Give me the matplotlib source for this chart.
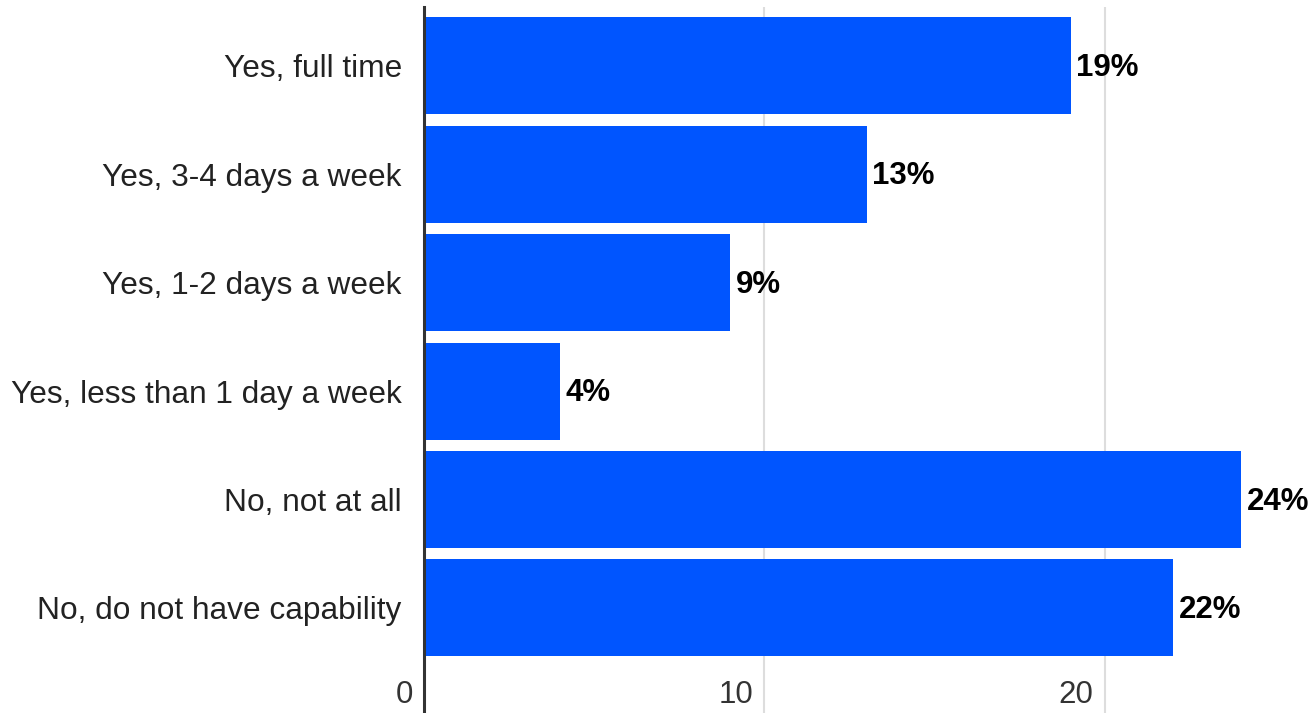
import matplotlib.pyplot as plt

plt.rcParams["font.family"] = ["Liberation Sans", "DejaVu Sans"]

categories = [
    "Yes, full time",
    "Yes, 3-4 days a week",
    "Yes, 1-2 days a week",
    "Yes, less than 1 day a week",
    "No, not at all",
    "No, do not have capability",
]
shares = [19, 13, 9, 4, 24, 22]
x_ticks = [0, 10, 20]

fig = plt.figure(figsize=(13.09, 7.13), dpi=100)
ax = fig.add_axes([424 / 1309, 0, 1 - 424 / 1309, 1 - 7 / 713])

pos = list(range(len(categories)))
ax.barh(pos, shares, height=0.895, color="#0055ff", zorder=3)

# percentage labels just past the end of each bar
for p, v in zip(pos, shares):
    ax.annotate(f"{v}%", (v, p), xytext=(4, -1.5), textcoords="offset points",
                ha="left", va="center", fontsize=22.5, fontweight="bold",
                color="#000000", zorder=4)

ax.set_xlim(0, 26)
ax.set_ylim(5.969, -0.544)

# light vertical gridlines
ax.set_xticks(x_ticks)
ax.tick_params(axis="x", length=0, labelbottom=False)
for t in x_ticks[1:]:
    ax.axvline(t, color="#dddddd", linewidth=1.5, zorder=1)

# x tick labels sit inside the plot, right-aligned to each gridline
for t in x_ticks:
    ax.annotate(str(t), (t, 5.80), xytext=(-8, 0), textcoords="offset points",
                ha="right", va="center", fontsize=22.5, color="#333333",
                annotation_clip=False)

ax.set_yticks(pos)
ax.set_yticklabels(categories, fontsize=22.8, color="#222222")
ax.tick_params(axis="y", length=0, pad=16)

for side in ["top", "right", "bottom"]:
    ax.spines[side].set_visible(False)
ax.spines["left"].set_color("#333333")
ax.spines["left"].set_linewidth(2.2)
ax.spines["left"].set_zorder(5)

fig.savefig("out.png", dpi=100)
